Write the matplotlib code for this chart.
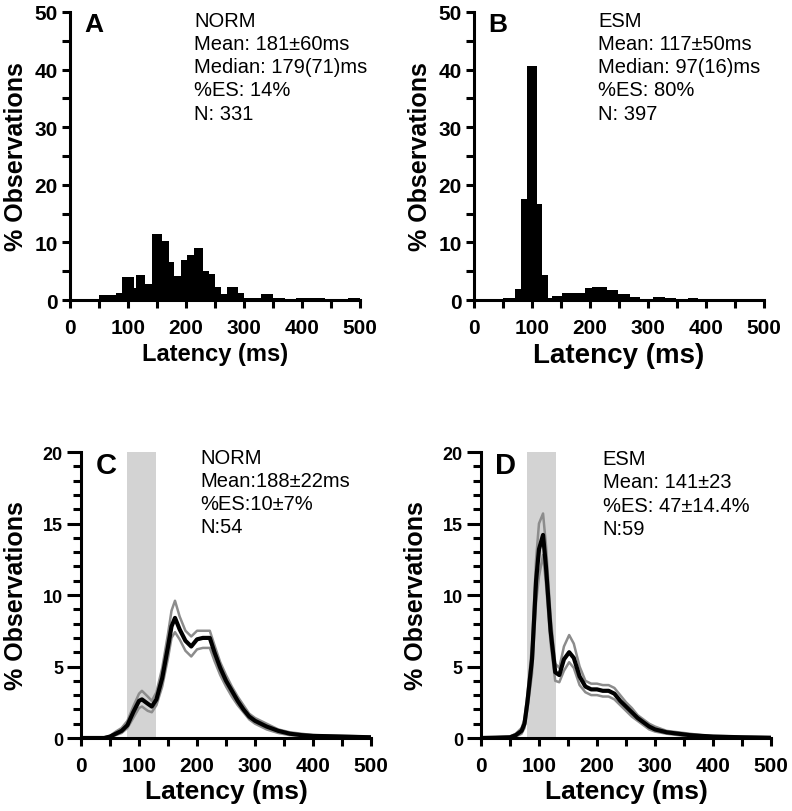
import matplotlib
matplotlib.use("Agg")
import matplotlib.pyplot as plt
import numpy as np
from matplotlib.ticker import MultipleLocator

plt.rcParams['font.family'] = ['Liberation Sans', 'DejaVu Sans']

# A: NORM histogram, bin edges (ms) and % observations
norm_edges = [50, 80, 90, 110, 114, 130, 141, 159, 170, 180, 192, 201, 213, 230, 240, 250,
              260, 270, 290, 300, 330, 350, 370, 390, 420, 440, 460, 480, 500]
norm_pct = [0.9, 1.2, 4.0, 2.0, 4.3, 2.7, 11.5, 10.3, 6.6, 4.2, 7.0, 7.9, 9.1, 5.1, 4.5,
            2.2, 1.0, 2.2, 1.3, 0.3, 1.0, 0.3, 0.1, 0.3, 0.3, 0.15, 0.0, 0.3]

# B: ESM histogram
esm_edges = [50, 71, 81, 91, 108, 118, 127, 134, 151, 171, 191, 203, 229, 249, 269, 286,
             309, 329, 349, 369, 386, 500]
esm_pct = [0.3, 1.9, 17.6, 40.6, 16.6, 4.3, 0.4, 0.7, 1.3, 1.2, 2.0, 2.2, 1.7, 1.0, 0.6,
           0.1, 0.6, 0.35, 0.1, 0.35, 0.0]

# C: NORM mean distribution (+/- sem)
c_lat = [0, 40, 50, 60, 70, 80, 90, 100, 105, 115, 122, 130, 140, 150, 156, 162, 170, 180,
         190, 200, 210, 222, 230, 240, 250, 260, 270, 280, 290, 300, 320, 340, 360, 380,
         400, 450, 500]
c_mean = [0, 0, 0.1, 0.3, 0.5, 0.9, 1.8, 2.6, 2.7, 2.4, 2.2, 2.7, 4.2, 6.4, 7.8, 8.4, 7.6,
          6.8, 6.4, 6.9, 7.0, 7.0, 6.0, 4.9, 4.0, 3.3, 2.6, 2.0, 1.5, 1.2, 0.8, 0.5, 0.3,
          0.2, 0.15, 0.1, 0.05]
c_hi = [0, 0.05, 0.15, 0.45, 0.7, 1.2, 2.2, 3.1, 3.3, 2.9, 2.6, 3.2, 4.9, 7.3, 8.9, 9.6,
        8.5, 7.5, 7.1, 7.5, 7.5, 7.5, 6.5, 5.3, 4.4, 3.6, 2.9, 2.3, 1.7, 1.4, 1.0, 0.6,
        0.4, 0.3, 0.2, 0.15, 0.1]
c_lo = [0, 0, 0.05, 0.2, 0.35, 0.7, 1.4, 2.1, 2.2, 1.9, 1.8, 2.3, 3.6, 5.6, 7.0, 7.4, 6.9,
        6.1, 5.7, 6.2, 6.3, 6.3, 5.4, 4.4, 3.6, 2.9, 2.3, 1.8, 1.3, 1.0, 0.6, 0.35, 0.2,
        0.15, 0.1, 0.05, 0.02]

# D: ESM mean distribution (+/- sem)
d_lat = [0, 50, 60, 70, 75, 80, 88, 95, 100, 107, 112, 120, 128, 135, 143, 152, 160, 170,
         180, 190, 200, 210, 220, 230, 240, 250, 260, 270, 280, 290, 300, 320, 340, 360,
         380, 400, 450, 500]
d_mean = [0, 0.05, 0.2, 0.5, 1.0, 2.5, 5.5, 11.0, 13.2, 14.2, 12.0, 7.5, 4.6, 4.4, 5.5,
          6.0, 5.6, 4.3, 3.6, 3.4, 3.4, 3.3, 3.3, 3.1, 2.6, 2.2, 1.8, 1.4, 1.1, 0.8, 0.6,
          0.4, 0.3, 0.2, 0.15, 0.1, 0.05, 0.02]
d_hi = [0, 0.1, 0.3, 0.7, 1.3, 3.0, 6.5, 12.5, 15.0, 15.7, 13.5, 8.5, 5.2, 4.9, 6.4, 7.2,
        6.6, 5.0, 4.0, 3.8, 3.8, 3.7, 3.7, 3.5, 3.0, 2.5, 2.1, 1.6, 1.3, 1.0, 0.8, 0.5,
        0.4, 0.3, 0.2, 0.15, 0.1, 0.05]
d_lo = [0, 0, 0.1, 0.3, 0.7, 2.0, 4.5, 9.5, 11.3, 12.8, 10.8, 6.6, 4.0, 3.9, 4.7, 5.3,
        4.9, 3.7, 3.2, 3.0, 3.0, 2.9, 2.9, 2.7, 2.3, 1.9, 1.5, 1.2, 0.9, 0.6, 0.45, 0.3,
        0.2, 0.1, 0.1, 0.05, 0.02, 0]

es_window = [80, 130]

txt_a = "NORM\nMean: 181\u00b160ms\nMedian: 179(71)ms\n%ES: 14%\nN: 331"
txt_b = "ESM\nMean: 117\u00b150ms\nMedian: 97(16)ms\n%ES: 80%\nN: 397"
txt_c = "NORM\nMean:188\u00b122ms\n%ES:10\u00b17%\nN:54"
txt_d = "ESM\nMean: 141\u00b123\n%ES: 47\u00b114.4%\nN:59"

fig = plt.figure(figsize=(7.92, 8.12), dpi=100)
axA = fig.add_axes([0.0884, 0.6293, 0.3662, 0.3547])
axB = fig.add_axes([0.5985, 0.6293, 0.3662, 0.3547])
axC = fig.add_axes([0.1023, 0.0899, 0.3662, 0.3522])
axD = fig.add_axes([0.6073, 0.0899, 0.3662, 0.3522])


def style(ax, ymax, ymaj, ymin, ytick_size, ymaj_len, xlab_size, ylab_x):
    ax.set_xlim(0, 500)
    ax.set_ylim(0, ymax)
    for s in ['top', 'right']:
        ax.spines[s].set_visible(False)
    for s in ['left', 'bottom']:
        ax.spines[s].set_linewidth(2.2)
    ax.xaxis.set_major_locator(MultipleLocator(100))
    ax.xaxis.set_minor_locator(MultipleLocator(50))
    ax.yaxis.set_major_locator(MultipleLocator(ymaj))
    ax.yaxis.set_minor_locator(MultipleLocator(ymin))
    ax.tick_params(axis='x', which='both', direction='out', length=6, width=2.2, pad=7,
                   labelsize=15)
    ax.tick_params(axis='y', which='major', direction='out', length=ymaj_len, width=2.2,
                   pad=3, labelsize=ytick_size)
    ax.tick_params(axis='y', which='minor', direction='out', length=6, width=2.2)
    for lab in ax.get_xticklabels() + ax.get_yticklabels():
        lab.set_fontweight('bold')
    ax.set_xlabel("Latency (ms)", fontsize=xlab_size, fontweight='bold')
    ax.set_ylabel("% Observations", fontsize=18, fontweight='bold')
    ax.xaxis.set_label_coords(0.5, -0.145)
    # label is anchored at its baseline side, so this is its right edge
    ax.yaxis.set_label_coords(ylab_x, 0.5)


# histograms
axA.stairs(norm_pct, norm_edges, fill=True, color='black', lw=0)
axB.stairs(esm_pct, esm_edges, fill=True, color='black', lw=0)
style(axA, 50, 10, 5, 15, 6, 17, -0.145)
style(axB, 50, 10, 5, 15, 6, 20, -0.145)

# mean curves with shaded express window
for ax, lat, m, hi, lo in [(axC, c_lat, c_mean, c_hi, c_lo), (axD, d_lat, d_mean, d_hi, d_lo)]:
    ax.axvspan(es_window[0], es_window[1], color='#d3d3d3', lw=0, zorder=0)
    ax.plot(lat, hi, color='#8c8c8c', lw=1.8)
    ax.plot(lat, lo, color='#8c8c8c', lw=1.8)
    ax.plot(lat, m, color='black', lw=3)
    style(ax, 20, 5, 1, 13, 10, 19, -0.183)

# panel letters
for ax, letter, y, fs in [(axA, 'A', 50.0, 19), (axB, 'B', 50.0, 19), (axC, 'C', 20.1, 21),
                          (axD, 'D', 20.1, 21)]:
    ax.text(25, y, letter, fontsize=fs, fontweight='bold', va='top', ha='left')

# stats text
axA.text(214, 50.2, txt_a, fontsize=14.5, va='top', ha='left', linespacing=1.28)
axB.text(214, 50.2, txt_b, fontsize=14.5, va='top', ha='left', linespacing=1.28)
axC.text(206, 20.3, txt_c, fontsize=14.5, va='top', ha='left', linespacing=1.28)
axD.text(210, 20.2, txt_d, fontsize=14.5, va='top', ha='left', linespacing=1.28)

fig.savefig("out.png", dpi=100)
